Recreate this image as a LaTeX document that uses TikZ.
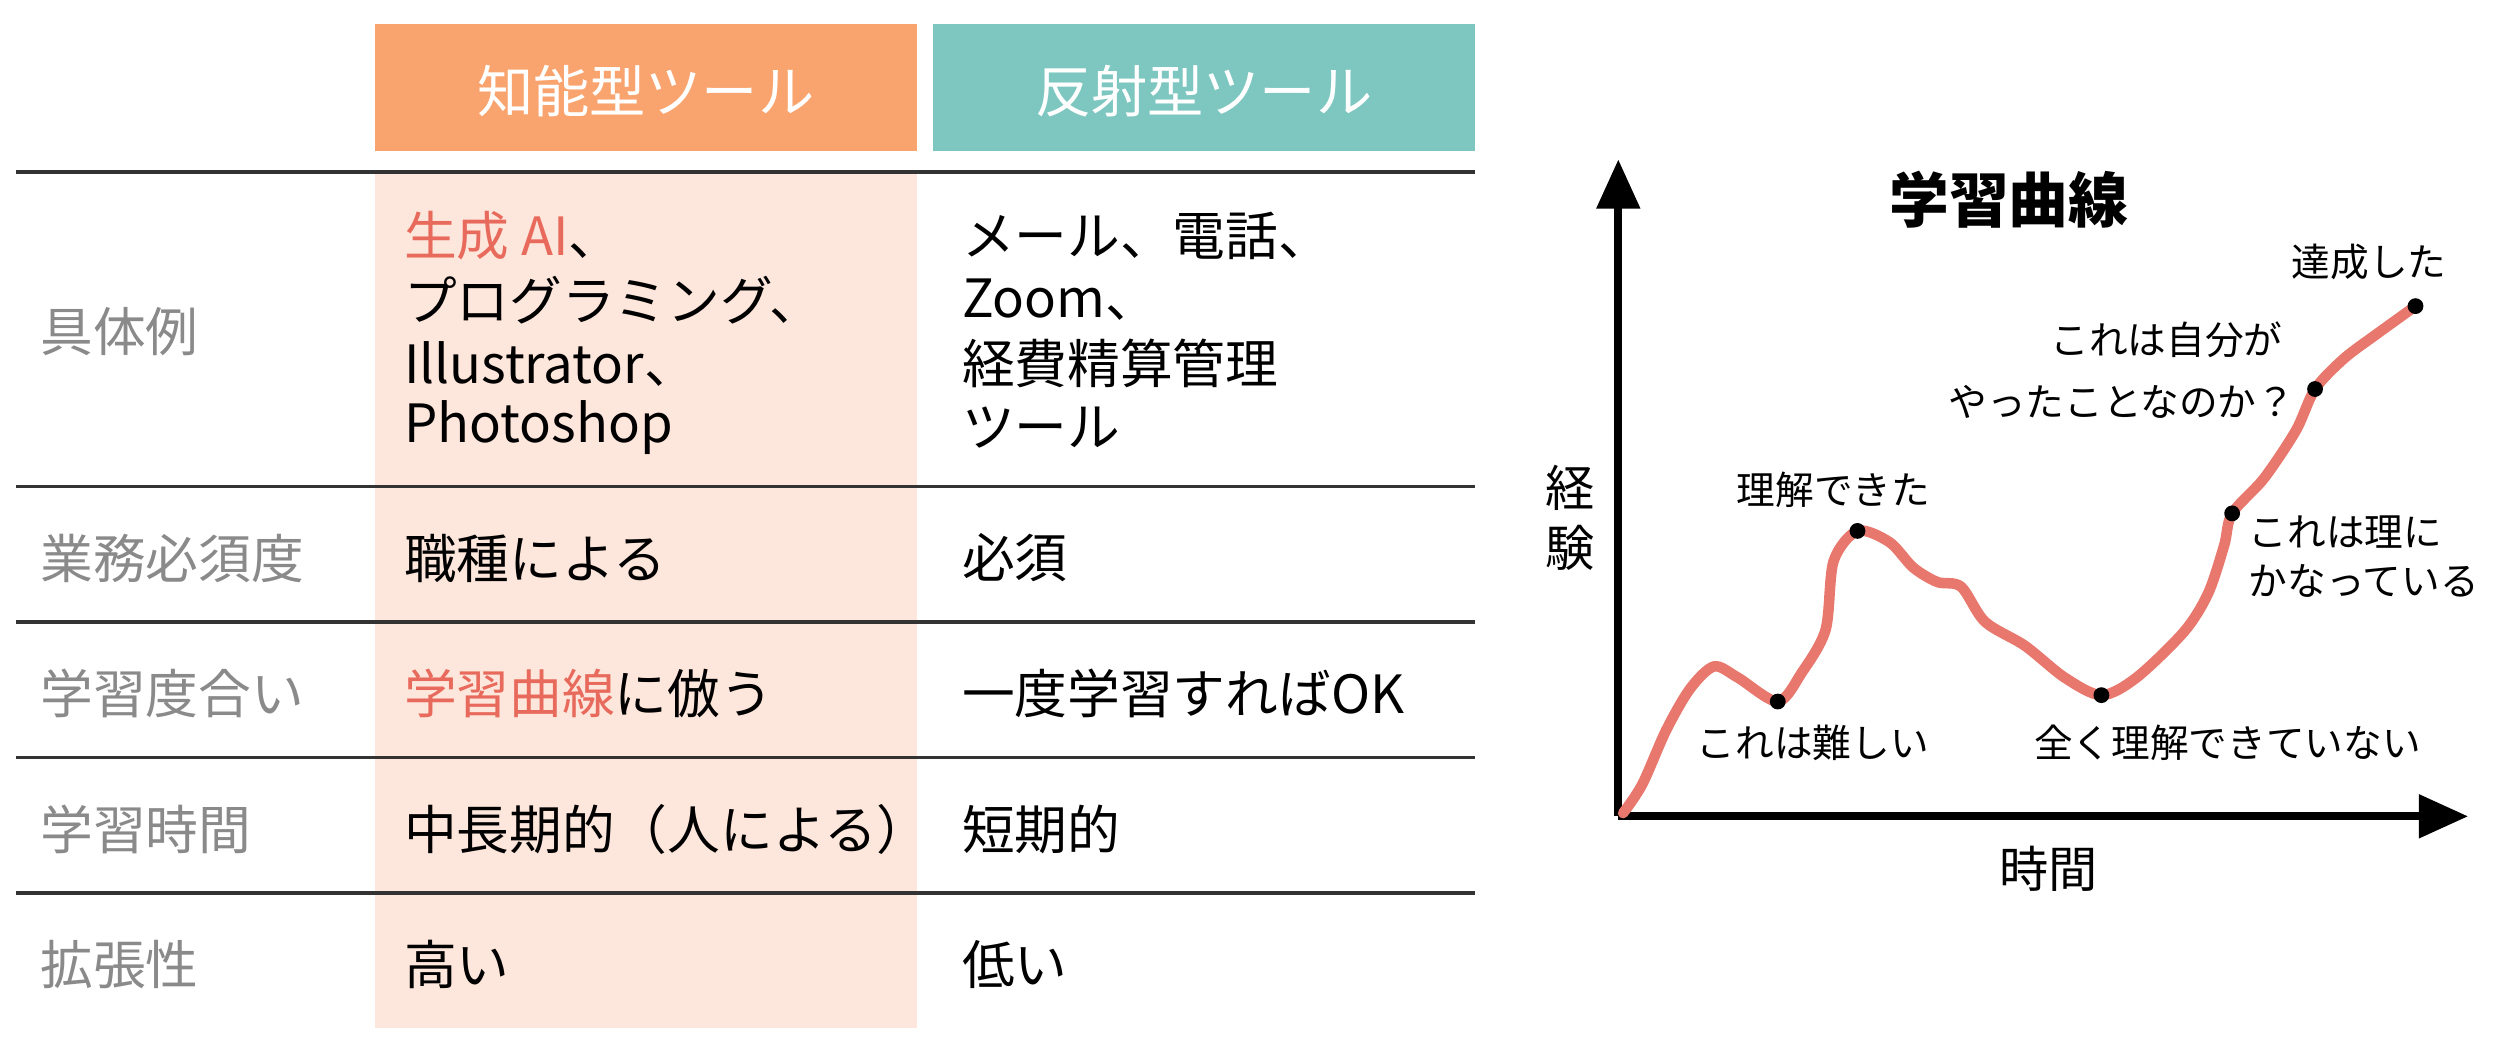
\documentclass[tikz,border=0pt]{standalone}
\usepackage{fontspec}
\setmainfont{Noto Sans CJK JP}
\usetikzlibrary{positioning,arrows.meta}
\definecolor{hdorange}{HTML}{F9A46F}
\definecolor{hdteal}{HTML}{7DC7C0}
\definecolor{colbg}{HTML}{FDE6DB}
\definecolor{accent}{HTML}{E86A5C}
\definecolor{curvered}{HTML}{E8776D}
\definecolor{lblgray}{HTML}{8A8A8A}
\tikzset{
  cell/.style={anchor=west,font=\fontsize{15}{19}\selectfont,inner sep=0pt},
  rowlbl/.style={cell,text=lblgray},
  head/.style={font=\fontsize{16}{19}\selectfont,text=white},
  small/.style={font=\fontsize{11}{14}\selectfont,inner sep=0pt},
  dot/.style={circle,fill=black,inner sep=0pt,minimum size=4.5pt},
}
\begin{document}
\begin{tikzpicture}[x=0.015944cm,y=-0.015944cm]
  \useasboundingbox (0,0) rectangle (1568,663.6);
  % table
  \fill[colbg] (235,108) rectangle (575,645);
  \fill[hdorange] (235,15) rectangle (575,95);
  \fill[hdteal] (585,15) rectangle (925,95);
  \node[head] (h1) at (405,57) {知能型ツール};
  \node[head] (h2) at (755,57) {反射型ツール};
  \foreach \y in {108,305,390,475,560}
    \draw[black!80,line width=1pt] (10,\y) -- (925,\y);
  \node[rowlbl] (r1) at (25,208) {具体例};
  \node[rowlbl] (r2) at (25,350) {業務必須度};
  \node[rowlbl] (r3) at (25,435) {学習度合い};
  \node[rowlbl] (r4) at (25,520) {学習時間};
  \node[rowlbl] (r5) at (25,605) {拡張性};
  \node[cell] (a1) at (253,148) {\textcolor{accent}{生成 AI}、};
  \node[cell] (a2) at (253,188) {プログラミング、};
  \node[cell] (a3) at (253,228) {Illustrator、};
  \node[cell] (a4) at (253,268) {Photoshop};
  \node[cell] (a5) at (253,350) {職種による};
  \node[cell] (a6) at (253,435) {\textcolor{accent}{学習曲線}に倣う};
  \node[cell] (a7) at (253,520) {中長期的（人による）};
  \node[cell] (a8) at (253,605) {高い};
  \node[cell] (b1) at (603,148) {メール、電話、};
  \node[cell] (b2) at (603,188) {Zoom、};
  \node[cell] (b3) at (603,228) {経費精算管理};
  \node[cell] (b4) at (603,268) {ツール};
  \node[cell] (b5) at (603,350) {必須};
  \node[cell] (b6) at (603,435) {一度学習すればOK};
  \node[cell] (b7) at (603,520) {短期的};
  \node[cell] (b8) at (603,605) {低い};
  % learning curve
  \coordinate (o) at (1015,512);
  \coordinate (ytop) at (1015,100);
  \coordinate (xend) at (1548,512);
  \draw[line width=2.2pt,-{Triangle[length=14pt,width=12pt]}] (o) -- (ytop);
  \draw[line width=2.2pt,-{Triangle[length=14pt,width=12pt]}] (o) -- (xend);
  \node[font=\fontsize{17}{20}\selectfont\bfseries] (title) at (1260,125) {学習曲線};
  \node[font=\fontsize{14}{17}\selectfont,align=center] (ylbl) at (985,325) {経\\験};
  \node[font=\fontsize{14}{17}\selectfont] (xlbl) at (1285,545) {時間};
  \draw[curvered,line width=3pt,line cap=round,line join=round] plot[smooth,tension=0.5] coordinates {
    (1018,510) (1030,492) (1045,458) (1060,432) (1075,418) (1090,425) (1115,440)
    (1130,422) (1145,395) (1150,352) (1165,333) (1185,340) (1200,356) (1215,365)
    (1230,368) (1245,390) (1270,405) (1295,425) (1318,436) (1340,425) (1370,396)
    (1385,372) (1395,342) (1400,322) (1420,300) (1440,270) (1452,244) (1470,225)
    (1490,210) (1515,192)};
  \node[dot] (p1) at (1115,440) {};
  \node[dot] (p2) at (1165,333) {};
  \node[dot] (p3) at (1318,436) {};
  \node[dot] (p4) at (1400,322) {};
  \node[dot] (p5) at (1452,244) {};
  \node[dot] (p6) at (1515,192) {};
  \node[small] (l1) at (1137,466) {これは難しい};
  \node[small] (l2) at (1150,307) {理解できた};
  \node[small] (l3) at (1397,466) {全く理解できていない};
  \node[small,anchor=west,align=left] (l4) at (1410,349) {これは理に\\かなっている};
  \node[small,anchor=east] (l5) at (1432,213) {これは自分が};
  \node[small,anchor=east] (l6) at (1440,252) {やったことなのか？};
  \node[small] (l7) at (1486,164) {達成した};
\end{tikzpicture}
\end{document}
